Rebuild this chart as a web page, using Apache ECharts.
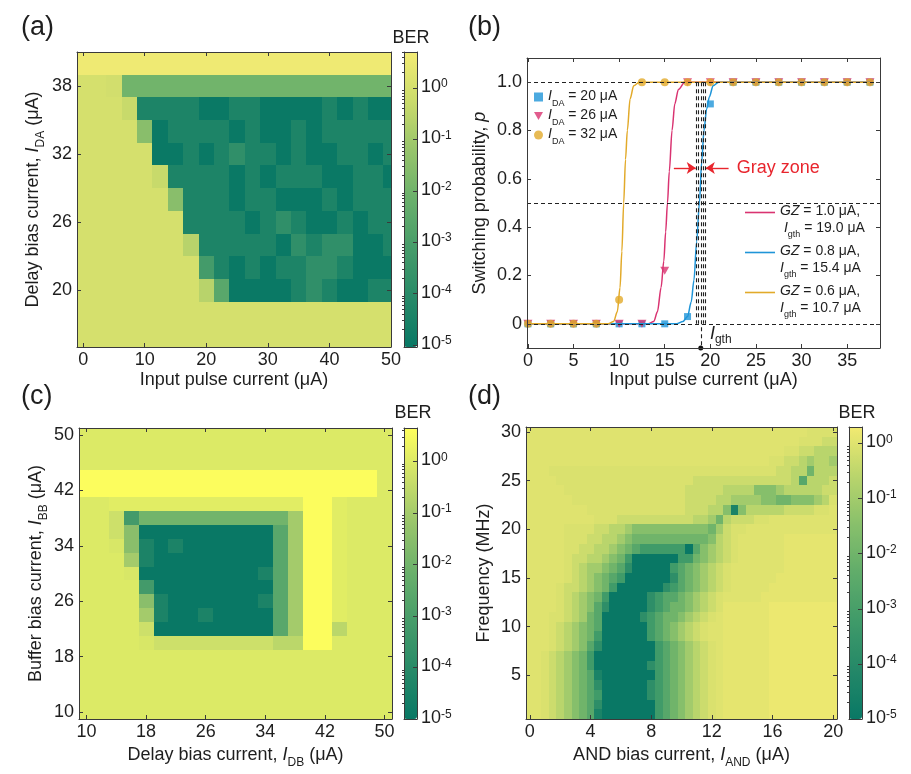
<!DOCTYPE html>
<html>
<head>
<meta charset="utf-8">
<title>BER maps and switching probability</title>
<script src="https://cdn.jsdelivr.net/npm/echarts@6.0.0/dist/echarts.min.js"></script>
<style>
  html, body { margin: 0; padding: 0; background: #fff; }
  #chart { width: 911px; height: 774px; }
</style>
</head>
<body>
<div id="chart"></div>
<script>
const FONT = "'Liberation Sans', Arial, sans-serif";
const INK = '#1e1e1e';
const FRAME = '#3a3a3a';
const RED = '#e8252d';
const PINK = '#d93371';
const BLUE = '#1f95d8';
const GOLD = '#e2aa2a';

// letters used in the map rows -> log10(BER)
const berLevels = {
  '0': -5.0, '1': -4.4, '2': -3.8, '3': -3.2, '4': -2.6, '5': -2.0, '6': -1.5, '7': -1.0,
  '8': -0.6, '9': -0.3, 'a': -0.08, 'b': 0.0, 'c': 0.09, 'd': 0.2, 'e': 0.6
};
const berDecades = [-5, -4, -3, -2, -1, 0];

// (a) input pulse current (x) vs delay bias current (y), rows listed from top
const aInputPulse = [0, 2.5, 5, 7.5, 10, 12.5, 15, 17.5, 20, 22.5, 25, 27.5, 30, 32.5, 35, 37.5, 40, 42.5, 45, 47.5, 50];
const aDelayBias = [40, 38, 36, 34, 32, 30, 28, 26, 24, 22, 20, 18, 16];
const aBerRows = [
  'eeeeeeeeeeeeeeeeeeeee',
  'bba555555555555555555',
  'bbb911110011000010100',
  'bbbb60111101001011111',
  'bbbbb0010121101001101',
  'bbbbb9111101011100110',
  'bbbbbb611101100010111',
  'bbbbbbb11110121001011',
  'bbbbbbb81111102122001',
  'bbbbbbbb3101011221000',
  'bbbbbbbb8400001210011',
  'bbbbbbbbbbbbbbbbbbbbb',
  'bbbbbbbbbbbbbbbbbbbbb'
];
const aXTicks = [0, 10, 20, 30, 40, 50];
const aYTicks = [20, 26, 32, 38];

// (b) switching probability
const bInputPulse = [0, 2.5, 5, 7.5, 10, 12.5, 15, 17.5, 20, 22.5, 25, 27.5, 30, 32.5, 35, 37.5];
const bP20 = [0, 0, 0, 0, 0, 0, 0, 0.03, 0.91, 1, 1, 1, 1, 1, 1, 1];
const bP26 = [0, 0, 0, 0, 0, 0, 0.22, 1, 1, 1, 1, 1, 1, 1, 1, 1];
const bP32 = [0, 0, 0, 0, 0.1, 1, 1, 1, 1, 1, 1, 1, 1, 1, 1, 1];
const bFit20 = [[0, 0], [16.3, 0], [17, 0.01], [17.5, 0.03], [17.9, 0.09], [18.2, 0.18], [18.5, 0.34], [18.8, 0.5],
  [19.05, 0.67], [19.3, 0.8], [19.6, 0.89], [19.9, 0.94], [20.3, 0.985], [20.9, 1], [37.5, 1]];
const bFit26 = [[0, 0], [13.2, 0], [13.8, 0.01], [14.2, 0.05], [14.6, 0.15], [14.9, 0.26], [15.1, 0.38], [15.3, 0.5],
  [15.5, 0.63], [15.8, 0.8], [16.1, 0.91], [16.5, 0.97], [17.2, 1], [37.5, 1]];
const bFit32 = [[0, 0], [8.8, 0], [9.4, 0.01], [9.8, 0.05], [10.1, 0.15], [10.3, 0.3], [10.5, 0.5], [10.7, 0.68],
  [10.9, 0.8], [11.2, 0.93], [11.6, 0.985], [12.2, 1], [37.5, 1]];
const bXTicks = [0, 5, 10, 15, 20, 25, 30, 35];
const bYTicks = [0, 0.2, 0.4, 0.6, 0.8, 1.0];
const bLevels = [1, 0.5, 0];
const bGrayZoneX = [18.45, 18.7, 19.2, 19.45];
const bIgth = 18.95;
const bGrayArrowY = 0.645;
const bGrayArrows = [[16.0, 18.4], [22.0, 19.5]];
const bLegendText = {
  l20: '{i|I}{s|DA}{n| = 20 μA}',
  l26: '{i|I}{s|DA}{n| = 26 μA}',
  l32: '{i|I}{s|DA}{n| = 32 μA}',
  f26: '{i|GZ}{n| = 1.0 μA,}\n{n| }{i|I}{s|gth}{n| = 19.0 μA}',
  f20: '{i|GZ}{n| = 0.8 μA,}\n{i|I}{s|gth}{n| = 15.4 μA}',
  f32: '{i|GZ}{n| = 0.6 μA,}\n{i|I}{s|gth}{n| = 10.7 μA}'
};

// (c) delay bias current (x) vs buffer bias current (y), rows listed from top
const cDelayBias = [10, 12, 14, 16, 18, 20, 22, 24, 26, 28, 30, 32, 34, 36, 38, 40, 42, 44, 46, 48, 50];
const cBufferBias = [50, 48, 46, 44, 42, 40, 38, 36, 34, 32, 30, 28, 26, 24, 22, 20, 18, 16, 14, 12, 10];
const cBerRows = [
  'bbbbbbbbbbbbbbbbbbbbb',
  'bbbbbbbbbbbbbbbbbbbbb',
  'bbbbbbbbbbbbbbbbbbbbb',
  'eeeeeeeeeeeeeeeeeeeeb',
  'eeeeeeeeeeeeeeeeeeeeb',
  'bbccccccccccccceecbbb',
  'bb9355555555557eecbbb',
  'bb9600000000047eecbbb',
  'bba610100000047eecbbb',
  'bbb710000000047eecbbb',
  'bbba00000000147eecbbb',
  'bbbb30000000047eecbbb',
  'bbbb61000000147eecbbb',
  'bbbb71001000047eecbbb',
  'bbbb90000000047ee8bbb',
  'bbbba9999999988eebbbb',
  'bbbbbbbbbbbbbbbbbbbbb',
  'bbbbbbbbbbbbbbbbbbbbb',
  'bbbbbbbbbbbbbbbbbbbbb',
  'bbbbbbbbbbbbbbbbbbbbb',
  'bbbbbbbbbbbbbbbbbbbbb'
];
const cTicks = [10, 18, 26, 34, 42, 50];

// (d) AND bias current (x) vs frequency (y), rows listed from 30 MHz down
const dAndBias = [0, 0.5, 1, 1.5, 2, 2.5, 3, 3.5, 4, 4.5, 5, 5.5, 6, 6.5, 7, 7.5, 8, 8.5, 9, 9.5, 10,
  10.5, 11, 11.5, 12, 12.5, 13, 13.5, 14, 14.5, 15, 15.5, 16, 16.5, 17, 17.5, 18, 18.5, 19, 19.5, 20];
const dFrequency = [30, 29, 28, 27, 26, 25, 24, 23, 22, 21, 20, 19, 18, 17, 16, 15,
  14, 13, 12, 11, 10, 9, 8, 7, 6, 5, 4, 3, 2, 1];
const dBerRows = [
  'bbbbbbbbbbbbbbbbbbbbbbbbbbbbbbbbbbbbbaaaa',
  'bbbbbbbbbbbbbbbbbbbbbbbbbbbbbbbbbbbbaaa99',
  'bbbbbbbbbbbbbbbbbbbbbbbbbbbbbbbbbbaa99888',
  'bbbbbbbbbbbbbbbbbbbbbbbbbbbbbbbbaa9987887',
  'bbbaaaaaaaaaaaaaaaaaaaaaaaaaaaaaa99885888',
  'bbbbaaaaaaaaaaaaaaaaaa9999999999999848889',
  'bbbbbaaaaaaaaaaaaaaaa99999888866678888899',
  'bbbbbbaaaaaaaaaaaaaaa9999887777665566678a',
  'bbbbbbbbaaaaaaaaaaaaa99988616888889999aab',
  'bbbbbbbbbaaa999999999988758999aabbbbbbbbb',
  'bbbbbaaaa998876666666666579aabbbbbbbbbbbb',
  'bbbbbaaa9988765555555555689abbbbbbccccccc',
  'bbbbbaa99887654333333046789abbbbbbccccccc',
  'bbbbba998876530000003356789abbbbbbccccccc',
  'bbbbba98776542000003456789abbbbbbbccccccc',
  'bbbbba98765430000002456789abbbbbbcccccccc',
  'bbbba998765300000023456789abbbbbccccccccc',
  'bbbba98765300000234456789abbbbbcccccccccc',
  'bbbba98764200000234556789accccccddddddddd',
  'bbbaa9875400000234556789abccccccddddddddd',
  'bbba9876540000003456789abbccccccddddddddd',
  'bbba9876530000003456789abbccccccddddddddd',
  'bbba98764200000003456789abccccccddddddddd',
  'bba987653000000003456789abccccccddddddddd',
  'bba987653000000023456789abccccccddddddddd',
  'bba987654100000003456789abccccccddddddddd',
  'bba987654200000023456789abccccccddddddddd',
  'bba987654300000023456789abccccccddddddddd',
  'bba987654200000003456789abccccccddddddddd',
  'bba987654100000003456789abccccccddddddddd'
];
const dXTicks = [0, 4, 8, 12, 16, 20];
const dYTicks = [5, 10, 15, 20, 25, 30];

// colour maps for the three BER bars
const cmapA = ['#097865', '#278a68', '#469c6a', '#69b06b', '#97c46b', '#cadb6b', '#f3ec74'];
const cmapC = ['#097865', '#278a68', '#469c6a', '#69b06b', '#97c46b', '#cde06a', '#ffff5c'];
const cmapD = ['#097865', '#248868', '#3f9a69', '#60ac6a', '#88c06b', '#bad56c', '#f2ea70'];

// ---------- helpers ----------
const nameRich = {
  n: {fontSize: 18, fontFamily: FONT, color: INK, lineHeight: 22, verticalAlign: 'top'},
  i: {fontSize: 18, fontFamily: FONT, color: INK, fontStyle: 'italic', lineHeight: 22, verticalAlign: 'top'},
  s: {fontSize: 12, fontFamily: FONT, color: INK, lineHeight: 12, padding: [11, 0, 0, 0], verticalAlign: 'top'}
};
const powRich = {
  b: {fontSize: 18, fontFamily: FONT, color: INK, lineHeight: 20, verticalAlign: 'top'},
  p: {fontSize: 12, fontFamily: FONT, color: INK, lineHeight: 12, verticalAlign: 'top'}
};

function logMinor(min, max) {
  const out = [];
  for (let d = -6; d <= 1; d++) {
    for (let k = 2; k <= 9; k++) {
      const v = d + Math.log10(k);
      if (v > min && v < max) out.push(v);
    }
  }
  return out;
}

const xAxes = [];
const yAxes = [];

function axis(o) {
  return Object.assign({
    type: 'value', z: 10, nameMoveOverlap: false,
    splitLine: {show: false},
    axisLine: {show: true, onZero: false, lineStyle: {color: FRAME, width: 1}},
    axisTick: {show: false},
    axisLabel: {show: false}
  }, o);
}
function tickOpt(values, len) {
  return {show: true, inside: true, length: len || 4, customValues: values, lineStyle: {color: FRAME, width: 1}};
}
function labelOpt(values, margin, fmt) {
  return {show: true, customValues: values, margin: margin, fontSize: 18, fontFamily: FONT, color: INK, formatter: fmt};
}
function nameOpt(gap) {
  return {nameLocation: 'middle', nameGap: gap, nameTextStyle: {fontSize: 18, fontFamily: FONT, color: INK, rich: nameRich}};
}
function addX(o) { xAxes.push(axis(o)); return xAxes.length - 1; }
function addY(o) { yAxes.push(axis(o)); return yAxes.length - 1; }

// plot frame with inward ticks on all four sides
function framedPlot(gi, xr, yr, xt, yt, xName, xGap, yName, yGap, yFmt) {
  const xi = addX(Object.assign({gridIndex: gi, position: 'bottom', min: xr[0], max: xr[1],
    axisTick: tickOpt(xt), axisLabel: labelOpt(xt, 4), name: xName}, nameOpt(xGap)));
  addX({gridIndex: gi, position: 'top', min: xr[0], max: xr[1], axisTick: tickOpt(xt)});
  const yi = addY(Object.assign({gridIndex: gi, position: 'left', min: yr[0], max: yr[1],
    axisTick: tickOpt(yt), axisLabel: labelOpt(yt, 5, yFmt), name: yName}, nameOpt(yGap)));
  addY({gridIndex: gi, position: 'right', min: yr[0], max: yr[1], axisTick: tickOpt(yt)});
  return [xi, yi];
}

function colourBarAxes(gi, min, max) {
  addX({gridIndex: gi, position: 'bottom', min: 0, max: 1});
  addX({gridIndex: gi, position: 'top', min: 0, max: 1});
  addY({gridIndex: gi, position: 'left', min: min, max: max});
  addY({gridIndex: gi, position: 'right', min: min, max: max, axisTick: tickOpt(berDecades, 4),
    axisLabel: {show: true, customValues: berDecades, margin: 4, rich: powRich,
      formatter: function (v) { return '{b|10}{p|' + Math.round(v) + '}'; }}});
  addY({gridIndex: gi, position: 'right', min: min, max: max, axisLine: {show: false},
    axisTick: tickOpt(logMinor(min, max), 2)});
}

function cellSeries(axes, xs, ys, rows, dx, dy) {
  const data = [];
  ys.forEach(function (y, r) {
    const row = rows[r];
    xs.forEach(function (x, c) {
      const ch = row.charAt(Math.min(c, row.length - 1));
      data.push([x, y, berLevels[ch]]);
    });
  });
  return {
    type: 'custom', xAxisIndex: axes[0], yAxisIndex: axes[1], silent: true,
    encode: {x: 0, y: 1}, data: data,
    renderItem: function (params, api) {
      const x = api.value(0), y = api.value(1);
      const cs = params.coordSys;
      const p0 = api.coord([x - dx / 2, y + dy / 2]);
      const p1 = api.coord([x + dx / 2, y - dy / 2]);
      // snap to whole pixels so neighbouring cells meet without seams
      const x0 = Math.max(Math.round(p0[0]), Math.round(cs.x));
      const x1 = Math.min(Math.round(p1[0]), Math.round(cs.x + cs.width));
      const y0 = Math.max(Math.round(p0[1]), Math.round(cs.y));
      const y1 = Math.min(Math.round(p1[1]), Math.round(cs.y + cs.height));
      if (x1 <= x0 || y1 <= y0) return;
      return {type: 'rect', shape: {x: x0, y: y0, width: x1 - x0, height: y1 - y0},
        style: {fill: api.visual('color')}};
    }
  };
}

// ---------- layout ----------
const grids = [
  {left: 77, top: 52, width: 314, height: 295},    // 0 (a)
  {left: 404, top: 52, width: 13, height: 295},    // 1 (a) colour bar
  {left: 527, top: 58, width: 353, height: 290},   // 2 (b)
  {left: 79, top: 428, width: 313, height: 291},   // 3 (c)
  {left: 404, top: 428, width: 13, height: 291},   // 4 (c) colour bar
  {left: 526, top: 427, width: 311, height: 292},  // 5 (d)
  {left: 849, top: 427, width: 13, height: 292}    // 6 (d) colour bar
].map(function (g) { return Object.assign({containLabel: false, outerBoundsMode: 'none'}, g); });

const axA = framedPlot(0, [-1, 50], [15, 41], aXTicks, aYTicks,
  '{n|Input pulse current (μA)}', 24, '{n|Delay bias current, }{i|I}{s|DA}{n| (μA)}', 31);
colourBarAxes(1, -5.04, 0.70);
const axB = framedPlot(2, [-0.1, 38.6], [-0.1, 1.1], bXTicks, bYTicks,
  '{n|Input pulse current (μA)}', 23, '{n|Switching probability, }{i|p}', 34,
  function (v) { return v === 0 ? '0' : v.toFixed(1); });
const axC = framedPlot(3, [9, 51], [9, 51], cTicks, cTicks,
  '{n|Delay bias current, }{i|I}{s|DB}{n| (μA)}', 27, '{n|Buffer bias current, }{i|I}{s|BB}{n| (μA)}', 30);
colourBarAxes(4, -5.0, 0.65);
const axD = framedPlot(5, [-0.25, 20.25], [0.5, 30.5], dXTicks, dYTicks,
  '{n|AND bias current, }{i|I}{s|AND}{n| (μA)}', 27, '{n|Frequency (MHz)}', 29);
colourBarAxes(6, -5.0, 0.3);

function pairs(xs, ys) { return xs.map(function (x, i) { return [x, ys[i]]; }); }

const series = [
  cellSeries(axA, aInputPulse, aDelayBias, aBerRows, 2.5, 2),
  cellSeries(axC, cDelayBias, cBufferBias, cBerRows, 2, 2),
  cellSeries(axD, dAndBias, dFrequency, dBerRows, 0.5, 1),
  {
    name: 'f26', type: 'line', xAxisIndex: axB[0], yAxisIndex: axB[1], data: bFit26,
    symbol: 'none', smooth: 0.3, smoothMonotone: 'x', color: PINK, lineStyle: {width: 1.5, color: PINK},
    markLine: {
      silent: true, symbol: ['none', 'arrow'], symbolSize: 9, label: {show: false},
      lineStyle: {color: RED, type: 'solid', width: 1.4},
      data: bGrayArrows.map(function (a) { return [{coord: [a[0], bGrayArrowY]}, {coord: [a[1], bGrayArrowY]}]; })
    }
  },
  {
    name: 'f20', type: 'line', xAxisIndex: axB[0], yAxisIndex: axB[1], data: bFit20,
    symbol: 'none', smooth: 0.3, smoothMonotone: 'x', color: BLUE, lineStyle: {width: 1.5, color: BLUE},
    markLine: {
      silent: true, symbol: ['none', 'none'], label: {show: false},
      lineStyle: {color: '#222', type: [4, 3], width: 1.1},
      data: bLevels.map(function (v) { return {yAxis: v}; })
        .concat(bGrayZoneX.map(function (x) { return [{coord: [x, 1]}, {coord: [x, 0]}]; }))
        .concat([[{coord: [bIgth, 1]}, {coord: [bIgth, -0.1]}]])
    }
  },
  {
    name: 'f32', type: 'line', xAxisIndex: axB[0], yAxisIndex: axB[1], data: bFit32,
    symbol: 'none', smooth: 0.3, smoothMonotone: 'x', color: GOLD, lineStyle: {width: 1.5, color: GOLD},
    markPoint: {
      silent: true, label: {show: false},
      data: [
        {coord: [bIgth, -0.1], symbol: 'circle', symbolSize: 5, itemStyle: {color: '#111'}},
        {coord: [22.9, bGrayArrowY], symbol: 'circle', symbolSize: 0,
          label: {show: true, position: 'right', distance: 0, formatter: 'Gray zone', color: RED, fontSize: 18, fontFamily: FONT}},
        {coord: [19.95, -0.045], symbol: 'circle', symbolSize: 0,
          label: {show: true, position: 'right', distance: 0, formatter: '{i|I}{s|gth}',
            rich: {
              i: {fontSize: 18, fontStyle: 'italic', fontFamily: FONT, color: INK, lineHeight: 20, verticalAlign: 'top'},
              s: {fontSize: 12, fontFamily: FONT, color: INK, lineHeight: 12, padding: [9, 0, 0, 0], verticalAlign: 'top'}
            }}}
      ]
    }
  },
  {name: 'l20', type: 'scatter', xAxisIndex: axB[0], yAxisIndex: axB[1], data: pairs(bInputPulse, bP20),
    symbol: 'rect', symbolSize: 7, itemStyle: {color: BLUE}},
  {name: 'l26', type: 'scatter', xAxisIndex: axB[0], yAxisIndex: axB[1], data: pairs(bInputPulse, bP26),
    symbol: 'path://M0,0L10,0L5,8.66Z', symbolSize: [9, 8], itemStyle: {color: PINK}},
  {name: 'l32', type: 'scatter', xAxisIndex: axB[0], yAxisIndex: axB[1], data: pairs(bInputPulse, bP32),
    symbol: 'circle', symbolSize: 8, itemStyle: {color: GOLD}}
];

function colourBar(seriesIndex, min, max, colours, g) {
  return {
    type: 'continuous', seriesIndex: seriesIndex, dimension: 2, min: min, max: max,
    inRange: {color: colours}, calculable: false, hoverLink: false, realtime: false,
    left: g.left, top: g.top, itemWidth: g.width, itemHeight: g.height, padding: 0, text: null
  };
}

const legendRich = {
  n: {fontSize: 14, fontFamily: FONT, color: INK, lineHeight: 16, verticalAlign: 'top'},
  i: {fontSize: 14, fontFamily: FONT, color: INK, fontStyle: 'italic', lineHeight: 16, verticalAlign: 'top'},
  s: {fontSize: 9, fontFamily: FONT, color: INK, lineHeight: 9, padding: [10, 0, 0, 0], verticalAlign: 'top'}
};
const legend2Rich = {
  n: {fontSize: 14, fontFamily: FONT, color: INK, lineHeight: 17, verticalAlign: 'top'},
  i: {fontSize: 14, fontFamily: FONT, color: INK, fontStyle: 'italic', lineHeight: 17, verticalAlign: 'top'},
  s: {fontSize: 9, fontFamily: FONT, color: INK, lineHeight: 9, padding: [9, 0, 0, 0], verticalAlign: 'top'}
};

function panelLabel(text, x, y) {
  return {type: 'text', x: x, y: y, style: {text: text, fontSize: 27, fontFamily: FONT, fill: INK}};
}
function berLabel(x, y) {
  return {type: 'text', x: x, y: y, style: {text: 'BER', fontSize: 18, fontFamily: FONT, fill: INK, align: 'center', verticalAlign: 'middle'}};
}

const option = {
  animation: false,
  backgroundColor: '#ffffff',
  textStyle: {fontFamily: FONT},
  grid: grids,
  xAxis: xAxes,
  yAxis: yAxes,
  visualMap: [
    colourBar(0, -5.04, 0.70, cmapA, grids[1]),
    colourBar(1, -5.0, 0.65, cmapC, grids[4]),
    colourBar(2, -5.0, 0.3, cmapD, grids[6])
  ],
  legend: [
    {selectedMode: false, orient: 'vertical', left: 534, top: 89, padding: 0, itemGap: 0,
      itemWidth: 9, itemHeight: 9, data: ['l20', 'l26', 'l32'],
      formatter: function (n) { return bLegendText[n]; },
      textStyle: {fontSize: 14, fontFamily: FONT, color: INK, rich: legendRich}},
    {selectedMode: false, orient: 'vertical', left: 745, top: 187, padding: 0, itemGap: -12,
      itemWidth: 30, itemHeight: 1.6, icon: 'rect', data: ['f26', 'f20', 'f32'],
      formatter: function (n) { return '\n' + bLegendText[n]; },
      textStyle: {fontSize: 14, lineHeight: 17, fontFamily: FONT, color: INK, rich: legend2Rich}}
  ],
  graphic: [
    panelLabel('(a)', 21, 14), panelLabel('(b)', 468, 14),
    panelLabel('(c)', 21, 383), panelLabel('(d)', 468, 383),
    berLabel(411, 38), berLabel(413, 413), berLabel(857, 413)
  ],
  series: series
};

const chart = echarts.init(document.getElementById('chart'));
chart.setOption(option);
</script>
</body>
</html>
